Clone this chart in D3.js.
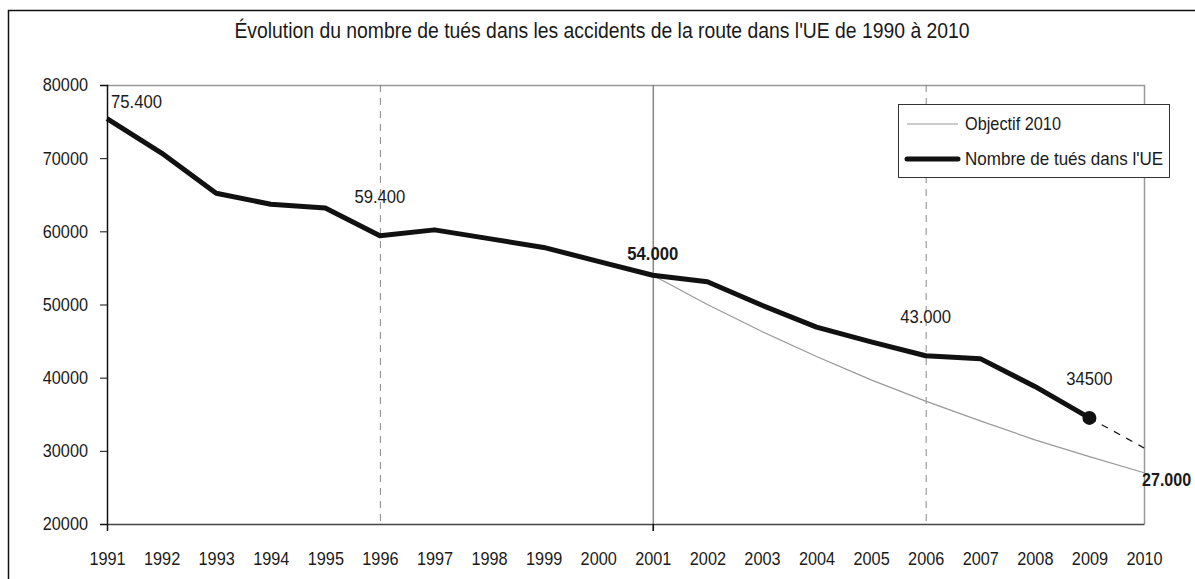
<!DOCTYPE html>
<html>
<head>
<meta charset="utf-8">
<script src="https://cdn.jsdelivr.net/npm/d3@7"></script>
<style>
  body { margin: 0; background: #fff; }
  svg text { font-family: "Liberation Sans Narrow", "Arial Narrow", "Liberation Sans", sans-serif; fill: #1a1a1a; }
</style>
</head>
<body>
<svg id="chart" width="1195" height="579"></svg>
<script>
const years = ["1991", "1992", "1993", "1994", "1995", "1996", "1997", "1998", "1999", "2000",
  "2001", "2002", "2003", "2004", "2005", "2006", "2007", "2008", "2009", "2010"];
const deaths = [75400, 70700, 65200, 63700, 63200, 59400, 60200, 59000, 57800, 55900,
  54000, 53100, 49900, 46900, 44900, 43000, 42600, 38800, 34500];
const projection = [["2009", 34500], ["2010", 30400]];
const objectiveYears = ["2001", "2002", "2003", "2004", "2005", "2006", "2007", "2008", "2009", "2010"];
const objective = [54000, 50000, 46300, 42900, 39700, 36800, 34100, 31500, 29200, 27000];
const yTicks = [20000, 30000, 40000, 50000, 60000, 70000, 80000];
const labels = [
  { year: "1991", value: 75400, text: "75.400", bold: false },
  { year: "1996", value: 59400, text: "59.400", bold: false },
  { year: "2001", value: 54000, text: "54.000", bold: true },
  { year: "2006", value: 43000, text: "43.000", bold: false },
  { year: "2009", value: 34500, text: "34500", bold: false },
  { year: "2010", value: 27000, text: "27.000", bold: true }
];

const svg = d3.select("#chart");
const margin = { top: 85, right: 51, bottom: 55, left: 107 };
const W = 1195, H = 579;
const fs = "18.5px";

// outer frame (cut off at right/bottom like the source)
svg.append("rect")
  .attr("x", 8.5).attr("y", 10.5)
  .attr("width", 1300).attr("height", 700)
  .attr("fill", "none").attr("stroke", "#111").attr("stroke-width", 1.5);

svg.append("text")
  .attr("x", 602).attr("y", 38)
  .attr("text-anchor", "middle")
  .attr("data-squeeze", 0.9)
  .style("font-size", "21.5px")
  .text("Évolution du nombre de tués dans les accidents de la route dans l'UE de 1990 à 2010");

const x = d3.scalePoint().domain(years).range([margin.left, W - margin.right]);
const y = d3.scaleLinear().domain([20000, 80000]).range([H - margin.bottom, margin.top]);

// plot frame top/right
svg.append("path")
  .attr("d", `M${x("1991")},${y(80000) + 0.5}H${x("2010") + 0.5}V${y(20000)}`)
  .attr("fill", "none").attr("stroke", "#999").attr("stroke-width", 1.5);

// vertical grid lines
svg.selectAll(".vdash").data(["1996", "2006"]).enter().append("line")
  .attr("x1", (d) => x(d) + 0.5).attr("x2", (d) => x(d) + 0.5)
  .attr("y1", y(80000)).attr("y2", y(20000))
  .attr("stroke", "#888").attr("stroke-dasharray", "7,6");

svg.append("line")
  .attr("x1", x("2001") + 0.5).attr("x2", x("2001") + 0.5)
  .attr("y1", y(80000)).attr("y2", y(20000) + 7)
  .attr("stroke", "#888").attr("stroke-width", 1.5);

// axes
const yAxis = d3.axisLeft(y).tickValues(yTicks).tickSize(7).tickPadding(12).tickFormat(d3.format("d"));
const gY = svg.append("g").attr("transform", `translate(${margin.left},0)`).call(yAxis);
gY.select(".domain").attr("stroke", "#111").attr("stroke-width", 1.5);
gY.selectAll(".tick line").attr("stroke", "#111");
gY.selectAll(".tick text").style("font-size", fs).attr("fill", "#1a1a1a");

const xAxis = d3.axisBottom(x).tickSize(0).tickPadding(28);
const gX = svg.append("g").attr("transform", `translate(0,${y(20000)})`).call(xAxis);
gX.select(".domain").attr("stroke", "#444").attr("stroke-width", 1.5);
gX.selectAll(".tick text").style("font-size", fs).attr("fill", "#1a1a1a");
gX.selectAll(".tick").filter((d) => d === "1991" || d === "2001").append("line")
  .attr("y1", 0).attr("y2", 7).attr("stroke", "#111").attr("stroke-width", 1.5);

// objective line
const objLine = d3.line().x((d, i) => x(objectiveYears[i])).y((d) => y(d));
svg.append("path").datum(objective)
  .attr("d", objLine)
  .attr("fill", "none").attr("stroke", "#999").attr("stroke-width", 1.2);

// projection dashed
svg.append("path").datum(projection)
  .attr("d", d3.line().x((d) => x(d[0])).y((d) => y(d[1])))
  .attr("fill", "none").attr("stroke", "#111").attr("stroke-width", 1.2)
  .attr("stroke-dasharray", "7,7");

// deaths line
const deathLine = d3.line().x((d, i) => x(years[i])).y((d) => y(d));
svg.append("path").datum(deaths)
  .attr("d", deathLine)
  .attr("fill", "none").attr("stroke", "#111").attr("stroke-width", 5)
  .attr("stroke-linejoin", "round");

svg.append("circle")
  .attr("cx", x("2009")).attr("cy", y(34500)).attr("r", 7)
  .attr("fill", "#111");

// data labels
svg.selectAll(".lbl").data(labels).enter().append("text")
  .attr("x", (d) => d.year === "1991" ? x(d.year) + 4 : d.year === "2010" ? x(d.year) - 2 : x(d.year))
  .attr("y", (d) => d.year === "1991" ? y(d.value) - 11 : d.year === "2010" ? y(d.value) + 13 : d.bold ? y(d.value) - 15 : y(d.value) - 33)
  .attr("text-anchor", (d) => d.year === "1991" || d.year === "2010" ? "start" : "middle")
  .attr("data-squeeze", (d) => d.year === "2010" ? 0.87 : 0.9)
  .style("font-size", fs)
  .style("font-weight", (d) => d.bold ? "bold" : "normal")
  .text((d) => d.text);

// legend
const legend = svg.append("g").attr("transform", "translate(898,104)");
legend.append("rect").attr("x", 0.5).attr("y", 0.5).attr("width", 271).attr("height", 73)
  .attr("fill", "#fff").attr("stroke", "#333").attr("stroke-width", 1);
legend.append("line").attr("x1", 9).attr("x2", 60).attr("y1", 20).attr("y2", 20)
  .attr("stroke", "#999").attr("stroke-width", 1.2);
legend.append("line").attr("x1", 9).attr("x2", 60).attr("y1", 55).attr("y2", 55)
  .attr("stroke", "#111").attr("stroke-width", 5).attr("stroke-linecap", "round");
legend.append("text").attr("x", 67).attr("y", 26).style("font-size", fs).text("Objectif 2010");
legend.append("text").attr("x", 67).attr("y", 61).attr("data-squeeze", 0.92)
  .style("font-size", fs).text("Nombre de tués dans l'UE");

// no narrow font installed: squeeze glyphs horizontally to mimic Arial Narrow
svg.selectAll("text").each(function () {
  const k = +(this.getAttribute("data-squeeze") || 0.88);
  const len = this.getComputedTextLength();
  d3.select(this).attr("textLength", len * k).attr("lengthAdjust", "spacingAndGlyphs");
});
</script>
</body>
</html>
